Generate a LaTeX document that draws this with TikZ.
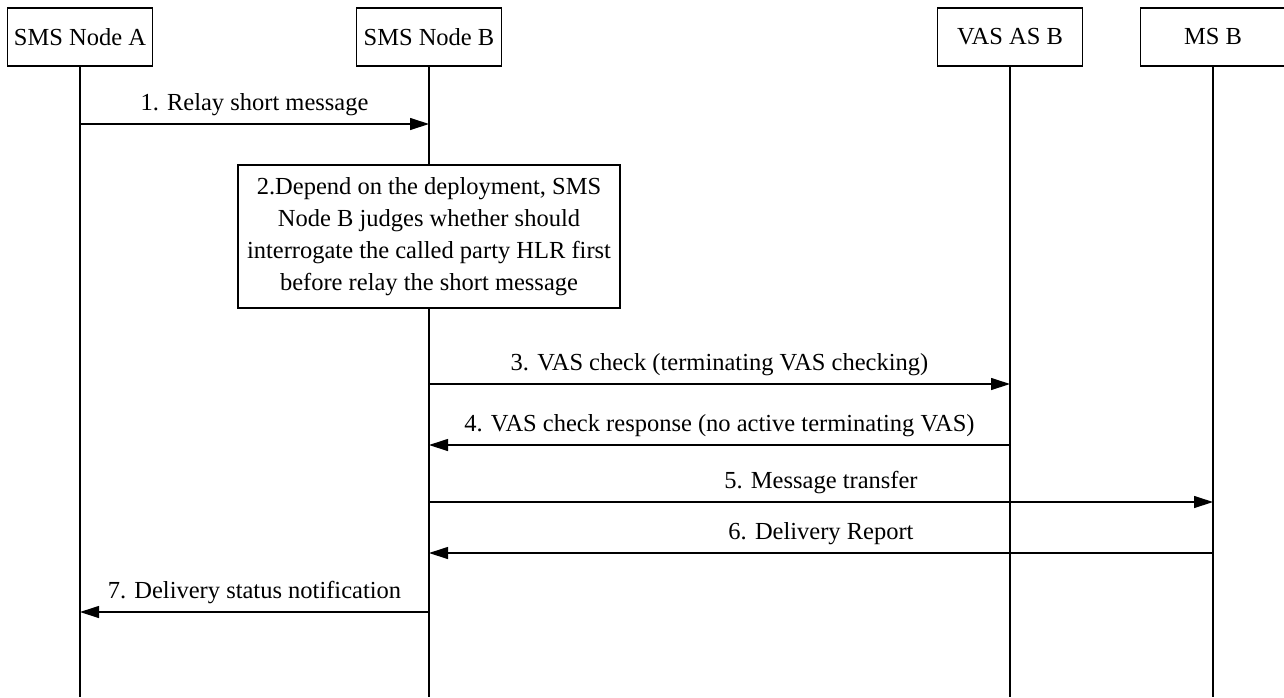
\documentclass[tikz,border=0pt]{standalone}
\usepackage{fontspec}
\setmainfont{Liberation Serif}
\usetikzlibrary{arrows.meta}

\begin{document}
\begin{tikzpicture}[>={Triangle[length=9.5pt,width=6pt]},x=0.5pt,y=-0.5pt,line width=0.6pt]
                \tikzstyle{every node}=[font=\fontsize{12.25}{16}\selectfont]
                \tikzstyle{entity}=[draw,fill=white,minimum width=72.5pt,minimum height=29pt,inner sep=0pt]
                \tikzstyle{lbl}=[anchor=base,yshift=7pt,inner sep=0pt]
                \useasboundingbox (0,0) rectangle (1284,697);
                \clip (0,0) rectangle (1284,697);
                \node[entity] (nodeA) at (80,37) {SMS Node A};
                \node[entity] (nodeB) at (429,37) {SMS Node B};
                \node[entity] (vasB) at (1010,37) {VAS AS B};
                \node[entity] (msB) at (1213,37) {MS B};
                \foreach \e in {nodeA,nodeB,vasB,msB}
                    {
                        \draw (\e.south) -- (\e.south |- 0,697);
                    }
                \node[draw,fill=white,minimum width=191pt,minimum height=71.5pt,align=center,inner sep=0pt] (judge) at (429,236.5)
                    {2.Depend on the deployment, SMS\\Node B judges whether should\\interrogate the called party HLR first\\before relay the short message};
                \draw[->] (nodeA |- 0,124) -- node[lbl]{1. Relay short message} (nodeB |- 0,124);
                \draw[->] (nodeB |- 0,384) -- node[lbl]{3. VAS check (terminating VAS checking)} (vasB |- 0,384);
                \draw[->] (vasB |- 0,445) -- node[lbl]{4. VAS check response (no active terminating VAS)} (nodeB |- 0,445);
                \draw[->] (nodeB |- 0,502) -- node[lbl]{5. Message transfer} (msB |- 0,502);
                \draw[->] (msB |- 0,553) -- node[lbl]{6. Delivery Report} (nodeB |- 0,553);
                \draw[->] (nodeB |- 0,612) -- node[lbl]{7. Delivery status notification} (nodeA |- 0,612);
            \end{tikzpicture}
\end{document}
